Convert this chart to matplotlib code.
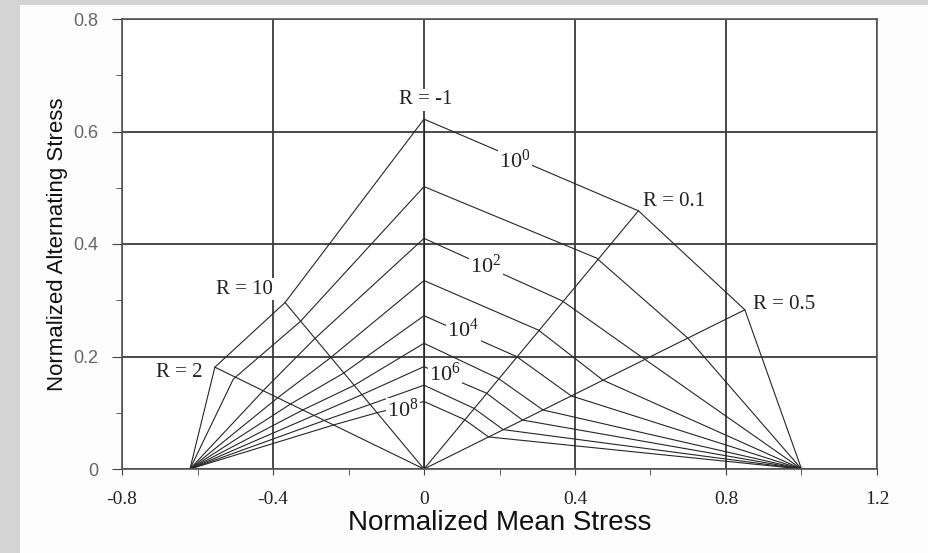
import matplotlib.pyplot as plt
from matplotlib.patches import Rectangle
from matplotlib.ticker import MultipleLocator

plt.rcParams['mathtext.fontset'] = 'custom'
plt.rcParams['mathtext.rm'] = 'Liberation Serif'
plt.rcParams['mathtext.it'] = 'Liberation Serif:italic'

# constant life lines, one per decade of cycles (10^0 ... 10^8)
cycles = [0, 1, 2, 3, 4, 5, 6, 7, 8]

# end points of every curve (static compressive / tensile strength)
ucs = (-0.62, 0.0)
uts = (1.0, 0.0)

# vertices, per R ratio: (mean, alternating)
r2_mean = [-0.554, -0.505, -0.422, -0.385, -0.350, -0.318, -0.289, -0.261, -0.236]
r2_alt = [0.181, 0.160, 0.142, 0.128, 0.117, 0.106, 0.096, 0.087, 0.079]

r10_mean = [-0.368, -0.328, -0.289, -0.249, -0.214, -0.187, -0.165, -0.142, -0.125]
r10_alt = [0.296, 0.262, 0.232, 0.197, 0.170, 0.148, 0.132, 0.115, 0.100]

rm1_mean = [0, 0, 0, 0, 0, 0, 0, 0, 0]
rm1_alt = [0.622, 0.502, 0.410, 0.335, 0.2725, 0.2235, 0.182, 0.149, 0.120]

r01_mean = [0.568, 0.457, 0.366, 0.303, 0.245, 0.197, 0.165, 0.132, 0.107]
r01_alt = [0.459, 0.375, 0.299, 0.247, 0.200, 0.161, 0.135, 0.108, 0.088]

r05_mean = [0.850, 0.700, 0.585, 0.474, 0.390, 0.315, 0.261, 0.210, 0.171]
r05_alt = [0.283, 0.232, 0.195, 0.158, 0.130, 0.105, 0.087, 0.070, 0.057]

fig = plt.figure(figsize=(9.29, 5.53), dpi=100, facecolor='#fdfdfd')
# grey paper border on the left and top
fig.patches.append(Rectangle((0, 0), 20 / 929, 1, transform=fig.transFigure,
                             facecolor='#d4d4d4', edgecolor='none', zorder=0))
fig.patches.append(Rectangle((0, 1 - 5 / 553), 1, 5 / 553, transform=fig.transFigure,
                             facecolor='#d4d4d4', edgecolor='none', zorder=0))

ax = fig.add_axes([122 / 929, 1 - 469 / 553, 755 / 929, 450 / 553])
ax.set_facecolor('white')

line_kw = dict(color='#262626', lw=0.8)

for i in range(len(cycles)):
    xs = [ucs[0], r2_mean[i], r10_mean[i], rm1_mean[i], r01_mean[i], r05_mean[i], uts[0]]
    ys = [ucs[1], r2_alt[i], r10_alt[i], rm1_alt[i], r01_alt[i], r05_alt[i], uts[1]]
    ax.plot(xs, ys, **line_kw)

# radial R lines from the origin out to the 10^0 curve
for mx, ay in [(r2_mean, r2_alt), (r10_mean, r10_alt), (rm1_mean, rm1_alt),
               (r01_mean, r01_alt), (r05_mean, r05_alt)]:
    ax.plot([0, mx[0]], [0, ay[0]], **line_kw)

ax.set_xlim(-0.8, 1.2)
ax.set_ylim(0, 0.8)
ax.xaxis.set_minor_locator(MultipleLocator(0.2))
ax.yaxis.set_minor_locator(MultipleLocator(0.1))
ax.set_yticks([0, 0.2, 0.4, 0.6, 0.8])
ax.set_yticklabels(['0', '0.2', '0.4', '0.6', '0.8'])
ax.set_xticks([-0.8, -0.4, 0, 0.4, 0.8, 1.2])
ax.set_xticklabels(['-0.8', '-0.4', '0', '0.4', '0.8', '1.2'])

ax.grid(True, which='major', color='#3a3a3a', lw=1.3)
ax.set_axisbelow(True)
for s in ax.spines.values():
    s.set_color('#555555')
    s.set_linewidth(1.2)

ax.tick_params(axis='x', which='both', direction='out', length=4, color='#444444',
               pad=12, labelsize=14, labelcolor='#222222')
ax.tick_params(axis='y', which='major', direction='out', length=7, color='#444444',
               pad=10, labelsize=13, labelcolor='#666666')
ax.tick_params(axis='y', which='minor', direction='out', length=4, color='#444444')
for lab in ax.get_xticklabels():
    lab.set_family('Liberation Serif')
for lab in ax.get_yticklabels():
    lab.set_family('Liberation Sans')

ax.set_xlabel('Normalized Mean Stress', family='Liberation Sans', fontsize=20,
              color='#111111', labelpad=1)
ax.set_ylabel('Normalized Alternating Stress', family='Liberation Sans', fontsize=16,
              color='#111111', labelpad=4)

# annotations
txt = dict(family='Liberation Serif', fontsize=15, color='#222222')
box = dict(facecolor='white', edgecolor='none', pad=1.0)
ax.text(0.005, 0.656, 'R = -1', ha='center', va='center', bbox=box, **txt)
ax.text(0.58, 0.476, 'R = 0.1', ha='left', va='center', bbox=box, **txt)
ax.text(0.872, 0.293, 'R = 0.5', ha='left', va='center', bbox=box, **txt)
ax.text(-0.476, 0.320, 'R = 10', ha='center', va='center', bbox=box, **txt)
ax.text(-0.588, 0.172, 'R = 2', ha='right', va='center', bbox=box, **txt)

sup = dict(family='Liberation Serif', fontsize=16, color='#222222')
ax.text(0.241, 0.548, r'$\mathregular{10^0}$', ha='center', va='center', bbox=box, **sup)
ax.text(0.164, 0.360, r'$\mathregular{10^2}$', ha='center', va='center', bbox=box, **sup)
ax.text(0.104, 0.246, r'$\mathregular{10^4}$', ha='center', va='center', bbox=box, **sup)
ax.text(0.056, 0.168, r'$\mathregular{10^6}$', ha='center', va='center', bbox=box, **sup)
ax.text(-0.055, 0.104, r'$\mathregular{10^8}$', ha='center', va='center', bbox=box, **sup)

fig.savefig('out.png', dpi=100, facecolor=fig.get_facecolor())
